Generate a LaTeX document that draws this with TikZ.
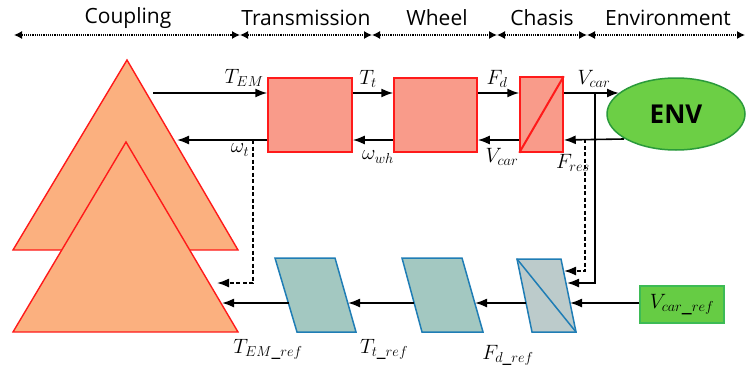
\documentclass[tikz,border=0pt]{standalone}
\usepackage{fontspec}
\setmainfont{Open Sans}
\usetikzlibrary{arrows.meta,shapes.geometric}
\definecolor{trifill}{HTML}{FBB07F}
\definecolor{redline}{HTML}{FF1A1A}
\definecolor{boxfill}{HTML}{F99B8A}
\definecolor{envfill}{HTML}{6CCF45}
\definecolor{envline}{HTML}{2A9A3A}
\definecolor{parafill}{HTML}{A3C8C1}
\definecolor{paraline}{HTML}{1F7DB5}
\definecolor{chreffill}{HTML}{BCCBCB}
\definecolor{reffill}{HTML}{66CC44}
\definecolor{refline}{HTML}{3DBB55}
\begin{document}
\begin{tikzpicture}[x=1pt,y=-1pt,
  hdr/.style={densely dotted, line width=1.2pt, {Latex[length=8pt,width=8pt]}-{Latex[length=8pt,width=8pt]}},
  hl/.style={font=\fontsize{21}{24}\selectfont, inner sep=0pt},
  arr/.style={line width=1.6pt, -{Latex[length=12pt,width=9pt]}},
  darr/.style={arr, dash pattern=on 4pt off 2.5pt},
  lab/.style={font=\fontsize{19.5}{22}\selectfont, inner sep=0pt},
  tristyle/.style={fill=trifill, draw=redline, line width=1.4pt, line join=miter},
  redbox/.style={rectangle, fill=boxfill, draw=redline, line width=1.5pt, inner sep=0pt},
  parastyle/.style={fill=parafill, draw=paraline, line width=1.5pt, line join=miter},
]
\useasboundingbox (0,0) rectangle (747,372);

% header
\coordinate (h0) at (14,35);
\coordinate (h1) at (240,35);
\coordinate (h2) at (372,35);
\coordinate (h3) at (497,35);
\coordinate (h4) at (587,35);
\coordinate (h5) at (745,35);
\draw[hdr] (h0) -- (h1);
\draw[hdr] (h1) -- (h2);
\draw[hdr] (h2) -- (h3);
\draw[hdr] (h3) -- (h4);
\draw[hdr] (h4) -- (h5);
\node[hl] (lcoup) at (128,18) {Coupling};
\node[hl] (ltran) at (306,18) {Transmission};
\node[hl] (lwhe) at (437,18) {Wheel};
\node[hl] (lcha) at (542,18) {Chasis};
\node[hl] (lenv) at (668,18) {Environment};

% row levels
\coordinate (yf) at (0,93);
\coordinate (yb) at (0,140);
\coordinate (yr) at (0,303);

% triangles
\filldraw[tristyle] (13,250) -- (127,60) -- (238,250) -- cycle;
\filldraw[tristyle] (13,332) -- (126,142) -- (238,332) -- cycle;
\coordinate (temstart) at (153,93);
\coordinate (omtip) at (177,140);
\coordinate (dashtip) at (217,283);
\coordinate (reftip) at (222,303);

% top row blocks
\node[redbox, minimum width=84pt, minimum height=74pt] (tr) at (310,115) {};
\node[redbox, minimum width=83pt, minimum height=74pt] (wh) at (435.5,115) {};
\node[redbox, minimum width=43pt, minimum height=75pt] (ch) at (541.5,114.5) {};
\draw[redline, line width=2pt] (ch.south west) -- (ch.north east);
\coordinate (envin) at (619,93);
\coordinate (envout) at (624,139);

% top arrows
\draw[arr] (temstart) -- (tr.west |- yf);
\draw[arr] (tr.west |- yb) -- (omtip);
\draw[arr] (tr.east |- yf) -- (wh.west |- yf);
\draw[arr] (wh.west |- yb) -- (tr.east |- yb);
\draw[arr] (wh.east |- yf) -- (ch.west |- yf);
\draw[arr] (ch.west |- yb) -- (wh.east |- yb);
\draw[arr] (ch.east |- yf) -- (envin);
\draw[arr] (envout) -- (ch.east |- yb);

\node[ellipse, fill=envfill, draw=envline, line width=1.5pt, minimum width=138pt, minimum height=72pt,
  font=\fontsize{26}{28}\selectfont\bfseries] (env) at (676,114) {ENV};

\node[lab] (lTEM) at (244,78) {$T_{EM}$};
\node[lab] (lomt) at (240,150) {$\omega_t$};
\node[lab] (lTt) at (368,79) {$T_t$};
\node[lab] (lomw) at (378,157) {$\omega_{wh}$};
\node[lab] (lFd) at (497,79) {$F_d$};
\node[lab] (lVc1) at (502,157) {$V_{car}$};
\node[lab] (lVc2) at (594,79) {$V_{car}$};
\node[lab] (lFres) at (573,163) {$F_{res}$};

% bottom parallelograms
\filldraw[parastyle] (275,258) coordinate (p1tl) -- (335,258) coordinate (p1tr) -- (356,332) coordinate (p1br) -- (297,332) coordinate (p1bl) -- cycle;
\filldraw[parastyle] (402,258) coordinate (p2tl) -- (462,258) coordinate (p2tr) -- (483,332) coordinate (p2br) -- (422,332) coordinate (p2bl) -- cycle;
\filldraw[parastyle, fill=chreffill] (517,259) coordinate (p3tl) -- (561,259) coordinate (p3tr) -- (576,332) coordinate (p3br) -- (532,332) coordinate (p3bl) -- cycle;
\draw[paraline, line width=1.5pt] (p3tl) -- (p3br);

\coordinate (p1l) at (288.5,303);
\coordinate (p1r) at (348,303);
\coordinate (p2l) at (414,303);
\coordinate (p2r) at (475,303);
\coordinate (p3l) at (526,303);
\coordinate (p3r) at (570,303);
\coordinate (p3a) at (564,271);
\coordinate (p3b) at (567,283);

\node[rectangle, fill=reffill, draw=refline, line width=1.5pt, minimum width=84pt, minimum height=37pt,
  font=\fontsize{22}{24}\selectfont] (vref) at (682,304.5) {$V_{car\_ref}$};

% bottom arrows
\draw[arr] (p1l) -- (reftip);
\draw[arr] (p2l) -- (p1r);
\draw[arr] (p3l) -- (p2r);
\draw[arr] (vref.west |- yr) -- (p3r);

% feedback lines
\coordinate (wtap) at (253,140);
\draw[darr] (wtap) -- (wtap |- dashtip) -- (dashtip);
\coordinate (ftap) at (585,139);
\draw[darr] (ftap) -- (ftap |- p3a) -- (p3a);
\coordinate (vtap) at (595,93);
\draw[arr] (vtap) -- (vtap |- p3b) -- (p3b);

\node[lab] (lTEMr) at (268,349) {$T_{EM\_ref}$};
\node[lab] (lTtr) at (384,349) {$T_{t\_ref}$};
\node[lab] (lFdr) at (508,355) {$F_{d\_ref}$};
\end{tikzpicture}
\end{document}
